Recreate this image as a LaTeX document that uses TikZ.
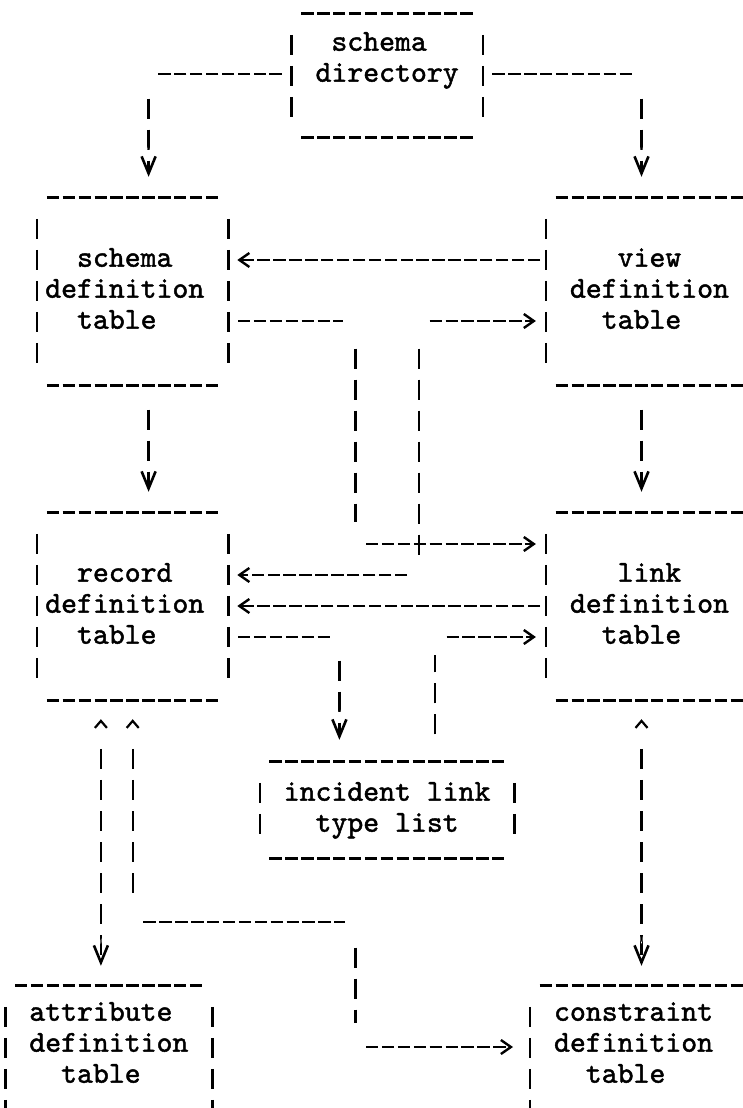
\documentclass[tikz,border=0pt]{standalone}
\usepackage{fontspec}
\usetikzlibrary{arrows.meta}
\newfontfamily\typeface{lmmono10-regular.otf}[FakeBold=1.5]
\newcommand\boxfont{\typeface\fontsize{30.29pt}{31pt}\selectfont}
\newcommand\indentby[1]{\hspace*{#1\dimexpr15.9pt\relax}}
\tikzset{
  hdash/.style={line width=2.8pt, dash pattern=on 12.4pt off 3.5pt, dash phase=14.15pt},
  vdash/.style={line width=2.4pt, dash pattern=on 20pt off 11pt, dash phase=25.5pt},
  vdashgap/.style={line width=2.4pt, dash pattern=on 0pt off 27pt on 20pt off 11pt on 20pt off 11pt
    on 20pt off 11pt on 20pt off 11pt on 20pt off 11pt on 20pt off 11pt on 20pt off 11pt on 20pt off 11pt},
  down tip/.tip={Straight Barb[length=14pt, width=6pt, line width=0.2pt, color=white]
    Straight Barb[length=17pt, width=14pt, line width=2.6pt]},
  side tip/.tip={Straight Barb[length=10pt, width=14pt, line width=2.4pt]},
  caret tip/.tip={Straight Barb[length=7pt, width=12pt, line width=2.2pt]},
  tbl/.style={font=\boxfont, align=left, inner xsep=7.95pt, inner ysep=0pt,
    minimum height=#1, execute at begin node=\strut, execute at end node=\strut,
    append after command={
      (\tikzlastnode.north west) edge[hdash, shorten <=7.95pt, shorten >=7.95pt] (\tikzlastnode.north east)
      (\tikzlastnode.south west) edge[hdash, shorten <=7.95pt, shorten >=7.95pt] (\tikzlastnode.south east)
      (\tikzlastnode.north west) edge[vdash, shorten <=15.5pt, shorten >=15.5pt] (\tikzlastnode.south west)
      (\tikzlastnode.north east) edge[vdash, shorten <=15.5pt, shorten >=15.5pt] (\tikzlastnode.south east)}},
}
\begin{document}
\begin{tikzpicture}[x=1pt, y=-1pt]
  \useasboundingbox (0,0) rectangle (742,1108);
  \node[tbl=123pt, text width=174.9pt] (dir) at (387.1,75.5)
    {\indentby{2}schema\\\indentby{1}directory\\};
  \node[tbl=187pt, text width=174.9pt] (sdt) at (132.7,291.5)
    {\indentby{2}schema\\definition\\\indentby{2}table};
  \node[tbl=187pt, text width=190.8pt] (vdt) at (649.45,291.5)
    {\indentby{4}view\\\indentby{1}definition\\\indentby{3}table};
  \node[tbl=187pt, text width=174.9pt] (rdt) at (132.7,606.5)
    {\indentby{2}record\\definition\\\indentby{2}table};
  \node[tbl=187pt, text width=190.8pt] (ldt) at (649.45,606.5)
    {\indentby{4}link\\\indentby{1}definition\\\indentby{3}table};
  \node[tbl=96pt, text width=238.5pt] (ilt) at (387.1,810)
    {\indentby{1}incident\indentby{1}link\\\indentby{3}type\indentby{1}list};
  \node[tbl=150pt, text width=190.8pt] (adt) at (108.85,1061)
    {\indentby{1}attribute\\\indentby{1}definition\\\indentby{3}table\\};
  \node[tbl=150pt, text width=206.7pt] (cdt) at (641.5,1061)
    {\indentby{1}constraint\\\indentby{1}definition\\\indentby{3}table\\};
  \coordinate (c1) at (148.6,74);
  \coordinate (c2) at (641.5,74);
  \coordinate (c3) at (355.3,321);
  \coordinate (c4) at (355.3,544);
  \coordinate (c5) at (418.9,321);
  \coordinate (c6) at (418.9,575);
  \coordinate (c7) at (339.4,637);
  \coordinate (c8) at (434.8,637);
  \coordinate (c9) at (132.7,922);
  \coordinate (c10) at (355.3,922);
  \coordinate (c11) at (355.3,1047);
  \coordinate (c12) at (100.9,0);
  \draw[hdash, shorten <=7.9pt, shorten >=8pt] (dir.west |- c1) -- (c1);
  \draw[vdash, shorten <=19pt, shorten >=21pt, -{down tip}] (c1) -- (c1 |- sdt.north);
  \draw[hdash, shorten <=7.9pt, shorten >=8pt] (dir.east |- c2) -- (c2);
  \draw[vdash, shorten <=19pt, shorten >=21pt, -{down tip}] (c2) -- (c2 |- vdt.north);
  \draw[hdash, shorten <=4pt, shorten >=9pt, -{side tip}] (vdt.west |- 0,260) -- (sdt.east |- 0,260);
  \draw[hdash, shorten <=8pt, shorten >=12pt] (sdt.east |- c3) -- (c3);
  \draw[vdash, shorten <=22pt, shorten >=22pt] (c3) -- (c4);
  \draw[hdash, shorten <=9pt, shorten >=10pt, -{side tip}] (c4) -- (ldt.west |- c4);
  \draw[hdash, shorten <=9pt, shorten >=10pt, -{side tip}] (c5) -- (vdt.west |- c5);
  \draw[vdash, shorten <=22pt, shorten >=20pt] (c5) -- (c6);
  \draw[hdash, shorten <=10pt, shorten >=9pt, -{side tip}] (c6) -- (rdt.east |- c6);
  \draw[vdash, shorten <=19pt, shorten >=21pt, -{down tip}] (c1 |- sdt.south) -- (c1 |- rdt.north);
  \draw[vdash, shorten <=19pt, shorten >=21pt, -{down tip}] (c2 |- vdt.south) -- (c2 |- ldt.north);
  \draw[hdash, shorten <=4pt, shorten >=9pt, -{side tip}] (ldt.west |- 0,606) -- (rdt.east |- 0,606);
  \draw[hdash, shorten <=8pt, shorten >=8pt] (rdt.east |- c7) -- (c7);
  \draw[vdash, shorten <=18pt, shorten >=22pt, -{down tip}] (c7) -- (c7 |- ilt.north);
  \draw[vdash, shorten <=22pt, shorten >=18pt] (ilt.north -| c8) -- (c8);
  \draw[hdash, shorten <=10pt, shorten >=10pt, -{side tip}] (c8) -- (ldt.west |- c8);
  \draw[vdashgap, shorten <=19pt, shorten >=20pt, {caret tip}-{down tip}] (rdt.south -| c12) -- (adt.north -| c12);
  \draw[vdashgap, shorten <=19pt, shorten >=25pt, {caret tip}-] (rdt.south -| c9) -- (c9);
  \draw[hdash, shorten <=9pt, shorten >=10pt] (c9) -- (c10);
  \draw[vdash, shorten <=20pt, shorten >=24pt] (c10) -- (c11);
  \draw[hdash, shorten <=9pt, shorten >=17pt, -{side tip}] (c11) -- (cdt.west |- c11);
  \draw[vdashgap, shorten <=19pt, shorten >=20pt, {caret tip}-{down tip}] (ldt.south -| c2) -- (cdt.north -| c2);
\end{tikzpicture}
\end{document}
